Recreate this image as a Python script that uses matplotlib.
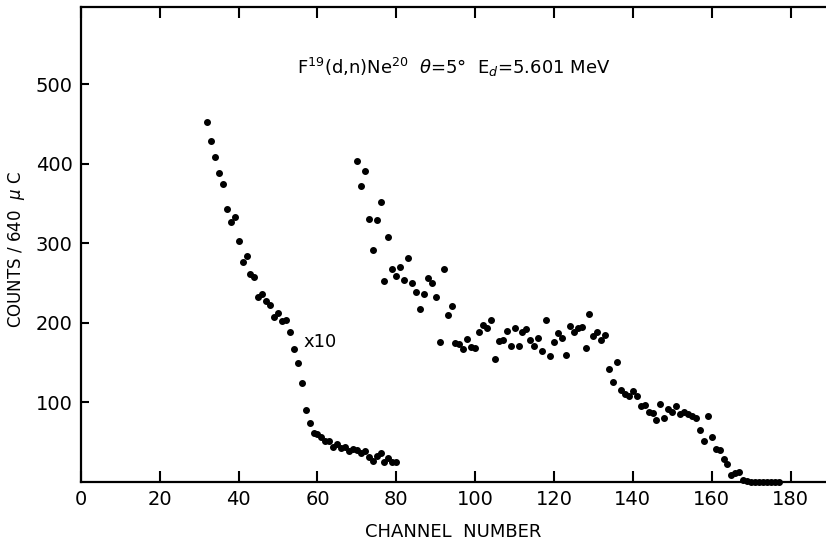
import numpy as np
import matplotlib
matplotlib.use("Agg")
import matplotlib.pyplot as plt

# datos (cuentas por canal)
canal_inicio_x10 = 32
cuentas_x10 = [452, 429, 409, 388, 374, 343, 327, 333, 303, 277, 284, 261,
               258, 232, 236, 228, 223, 208, 213, 202, 203, 188, 167, 149,
               124, 90, 74, 61, 60, 57, 51.5, 51.5, 44, 48, 43, 44, 38.5,
               42, 40, 36, 39, 31, 26, 33, 36, 25, 30.5, 25.5, 25]

canal_inicio = 70
cuentas = [404, 372, 391, 330, 291, 329, 352, 253, 308, 268, 259, 270, 254,
           281, 250, 239, 217, 236, 256, 250, 232, 176, 268, 210, 221, 175,
           173, 167, 180, 170, 169, 189, 197, 193, 204, 154, 177, 179, 190,
           171, 193, 171, 189, 192, 178, 171, 181, 165, 204, 158, 176, 187,
           181, 160, 196, 188, 194, 195, 169, 211, 184, 189, 179, 185, 142,
           126, 151, 116, 110, 108, 114, 108, 95, 97, 88, 87, 77.5, 98, 80,
           92, 88, 95, 86, 88, 86, 83, 80, 66, 52, 82.5, 57, 42, 40, 29, 23,
           9, 11, 13, 3, 1, 0.5, 0, 0, 0, 0, 0.5, 0, 0]

x_ticks = [0, 20, 40, 60, 80, 100, 120, 140, 160, 180]
y_ticks = [100, 200, 300, 400, 500]

canales_x10 = np.arange(canal_inicio_x10, canal_inicio_x10 + len(cuentas_x10))
canales = np.arange(canal_inicio, canal_inicio + len(cuentas))

fig = plt.figure(figsize=(8.26, 5.43), dpi=100)
ax = fig.add_axes([0.098, 0.1123, 0.902, 0.8748])

ax.plot(canales_x10, cuentas_x10, "o", color="black", ms=4, clip_on=False)
ax.plot(canales, cuentas, "o", color="black", ms=4, clip_on=False)

ax.set_xlim(0, 189)
ax.set_ylim(0, 597)
ax.set_xticks(x_ticks)
ax.set_yticks(y_ticks)
ax.tick_params(direction="in", length=8, width=1.5, labelsize=14,
               top=True, bottom=True, left=True, right=False, pad=6)
ax.tick_params(axis="y", length=6)
for lado in ["left", "bottom", "top"]:
    ax.spines[lado].set_linewidth(1.6)
ax.spines["right"].set_visible(False)

ax.set_xlabel("CHANNEL  NUMBER", fontsize=13, labelpad=10)
ax.set_ylabel("COUNTS / 640  $\\mu$ C", fontsize=12)
ax.yaxis.set_label_coords(-0.072, 0.49)

ax.text(94.5, 521, "F$^{19}$(d,n)Ne$^{20}$  $\\theta$=5°  E$_d$=5.601 MeV",
        fontsize=13, ha="center", va="center")
ax.text(56.5, 176, "x10", fontsize=13, ha="left", va="center")

plt.savefig("out.png", dpi=100)
